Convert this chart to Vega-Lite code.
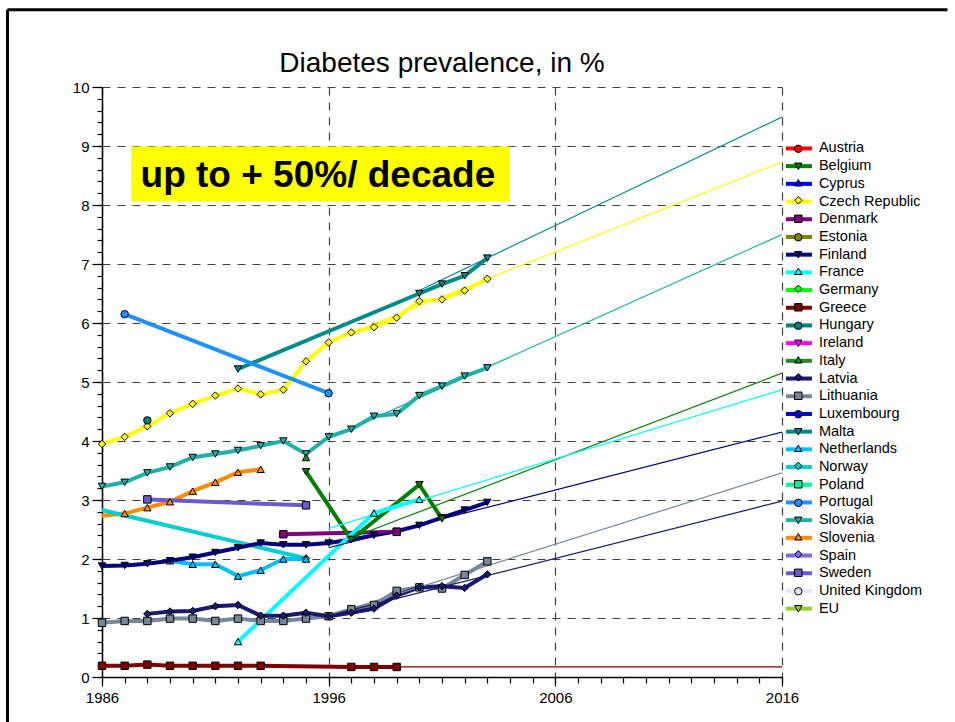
{
  "$schema": "https://vega.github.io/schema/vega-lite/v6.json",
  "width": 680,
  "height": 590,
  "autosize": {"type": "none"},
  "padding": {"left": 102, "top": 87, "right": 173, "bottom": 45},
  "background": "white",
  "config": {"view": {"stroke": null}, "font": "Liberation Sans"},
  "title": {"text": "Diabetes prevalence, in %", "fontSize": 28, "fontWeight": "normal", "font": "Liberation Sans", "color": "black", "anchor": "middle", "frame": "group", "baseline": "alphabetic", "offset": -92},
  "datasets": {
    "obs": [
      {"country": "Czech Republic", "year": 1986, "value": 3.95},
      {"country": "Czech Republic", "year": 1987, "value": 4.07},
      {"country": "Czech Republic", "year": 1988, "value": 4.25},
      {"country": "Czech Republic", "year": 1989, "value": 4.47},
      {"country": "Czech Republic", "year": 1990, "value": 4.63},
      {"country": "Czech Republic", "year": 1991, "value": 4.77},
      {"country": "Czech Republic", "year": 1992, "value": 4.89},
      {"country": "Czech Republic", "year": 1993, "value": 4.79},
      {"country": "Czech Republic", "year": 1994, "value": 4.87},
      {"country": "Czech Republic", "year": 1995, "value": 5.35},
      {"country": "Czech Republic", "year": 1996, "value": 5.67},
      {"country": "Czech Republic", "year": 1997, "value": 5.84},
      {"country": "Czech Republic", "year": 1998, "value": 5.93},
      {"country": "Czech Republic", "year": 1999, "value": 6.09},
      {"country": "Czech Republic", "year": 2000, "value": 6.37},
      {"country": "Czech Republic", "year": 2001, "value": 6.40},
      {"country": "Czech Republic", "year": 2002, "value": 6.55},
      {"country": "Czech Republic", "year": 2003, "value": 6.75},
      {"country": "Malta", "year": 1992, "value": 5.22},
      {"country": "Malta", "year": 2000, "value": 6.50},
      {"country": "Malta", "year": 2001, "value": 6.66},
      {"country": "Malta", "year": 2002, "value": 6.80},
      {"country": "Malta", "year": 2003, "value": 7.10},
      {"country": "Slovakia", "year": 1986, "value": 3.23},
      {"country": "Slovakia", "year": 1987, "value": 3.30},
      {"country": "Slovakia", "year": 1988, "value": 3.46},
      {"country": "Slovakia", "year": 1989, "value": 3.56},
      {"country": "Slovakia", "year": 1990, "value": 3.72},
      {"country": "Slovakia", "year": 1991, "value": 3.78},
      {"country": "Slovakia", "year": 1992, "value": 3.84},
      {"country": "Slovakia", "year": 1993, "value": 3.92},
      {"country": "Slovakia", "year": 1994, "value": 4.00},
      {"country": "Slovakia", "year": 1995, "value": 3.78},
      {"country": "Slovakia", "year": 1996, "value": 4.07},
      {"country": "Slovakia", "year": 1997, "value": 4.20},
      {"country": "Slovakia", "year": 1998, "value": 4.42},
      {"country": "Slovakia", "year": 1999, "value": 4.46},
      {"country": "Slovakia", "year": 2000, "value": 4.77},
      {"country": "Slovakia", "year": 2001, "value": 4.93},
      {"country": "Slovakia", "year": 2002, "value": 5.10},
      {"country": "Slovakia", "year": 2003, "value": 5.24},
      {"country": "Hungary", "year": 1988, "value": 4.35},
      {"country": "Portugal", "year": 1987, "value": 6.15},
      {"country": "Portugal", "year": 1996, "value": 4.81},
      {"country": "Slovenia", "year": 1985, "value": 2.70},
      {"country": "Slovenia", "year": 1987, "value": 2.77},
      {"country": "Slovenia", "year": 1988, "value": 2.87},
      {"country": "Slovenia", "year": 1989, "value": 2.97},
      {"country": "Slovenia", "year": 1990, "value": 3.15},
      {"country": "Slovenia", "year": 1991, "value": 3.30},
      {"country": "Slovenia", "year": 1992, "value": 3.47},
      {"country": "Slovenia", "year": 1993, "value": 3.52},
      {"country": "Sweden", "year": 1988, "value": 3.01},
      {"country": "Sweden", "year": 1995, "value": 2.91},
      {"country": "Norway", "year": 1985, "value": 2.92},
      {"country": "Norway", "year": 1995, "value": 2.01},
      {"country": "Netherlands", "year": 1989, "value": 1.97},
      {"country": "Netherlands", "year": 1990, "value": 1.91},
      {"country": "Netherlands", "year": 1991, "value": 1.91},
      {"country": "Netherlands", "year": 1992, "value": 1.71},
      {"country": "Netherlands", "year": 1993, "value": 1.81},
      {"country": "Netherlands", "year": 1994, "value": 2.00},
      {"country": "Netherlands", "year": 1995, "value": 2.00},
      {"country": "Finland", "year": 1986, "value": 1.88},
      {"country": "Finland", "year": 1987, "value": 1.89},
      {"country": "Finland", "year": 1988, "value": 1.92},
      {"country": "Finland", "year": 1989, "value": 1.97},
      {"country": "Finland", "year": 1990, "value": 2.03},
      {"country": "Finland", "year": 1991, "value": 2.11},
      {"country": "Finland", "year": 1992, "value": 2.19},
      {"country": "Finland", "year": 1993, "value": 2.27},
      {"country": "Finland", "year": 1994, "value": 2.24},
      {"country": "Finland", "year": 1995, "value": 2.24},
      {"country": "Finland", "year": 1996, "value": 2.27},
      {"country": "Finland", "year": 1997, "value": 2.33},
      {"country": "Finland", "year": 1998, "value": 2.40},
      {"country": "Finland", "year": 1999, "value": 2.47},
      {"country": "Finland", "year": 2000, "value": 2.57},
      {"country": "Finland", "year": 2001, "value": 2.70},
      {"country": "Finland", "year": 2002, "value": 2.83},
      {"country": "Finland", "year": 2003, "value": 2.96},
      {"country": "Denmark", "year": 1994, "value": 2.42},
      {"country": "Denmark", "year": 1999, "value": 2.46},
      {"country": "Belgium", "year": 1995, "value": 3.48},
      {"country": "Belgium", "year": 1997, "value": 2.33},
      {"country": "Belgium", "year": 2000, "value": 3.26},
      {"country": "Belgium", "year": 2001, "value": 2.68},
      {"country": "Italy", "year": 1995, "value": 3.72},
      {"country": "France", "year": 1992, "value": 0.60},
      {"country": "France", "year": 1998, "value": 2.78},
      {"country": "France", "year": 2000, "value": 3.01},
      {"country": "Lithuania", "year": 1986, "value": 0.92},
      {"country": "Lithuania", "year": 1987, "value": 0.95},
      {"country": "Lithuania", "year": 1988, "value": 0.95},
      {"country": "Lithuania", "year": 1989, "value": 0.99},
      {"country": "Lithuania", "year": 1990, "value": 0.99},
      {"country": "Lithuania", "year": 1991, "value": 0.95},
      {"country": "Lithuania", "year": 1992, "value": 0.99},
      {"country": "Lithuania", "year": 1993, "value": 0.95},
      {"country": "Lithuania", "year": 1994, "value": 0.95},
      {"country": "Lithuania", "year": 1995, "value": 0.99},
      {"country": "Lithuania", "year": 1996, "value": 1.03},
      {"country": "Lithuania", "year": 1997, "value": 1.15},
      {"country": "Lithuania", "year": 1998, "value": 1.22},
      {"country": "Lithuania", "year": 1999, "value": 1.46},
      {"country": "Lithuania", "year": 2000, "value": 1.52},
      {"country": "Lithuania", "year": 2001, "value": 1.50},
      {"country": "Lithuania", "year": 2002, "value": 1.73},
      {"country": "Lithuania", "year": 2003, "value": 1.96},
      {"country": "Latvia", "year": 1988, "value": 1.07},
      {"country": "Latvia", "year": 1989, "value": 1.11},
      {"country": "Latvia", "year": 1990, "value": 1.12},
      {"country": "Latvia", "year": 1991, "value": 1.20},
      {"country": "Latvia", "year": 1992, "value": 1.22},
      {"country": "Latvia", "year": 1993, "value": 1.04},
      {"country": "Latvia", "year": 1994, "value": 1.04},
      {"country": "Latvia", "year": 1995, "value": 1.09},
      {"country": "Latvia", "year": 1996, "value": 1.03},
      {"country": "Latvia", "year": 1997, "value": 1.09},
      {"country": "Latvia", "year": 1998, "value": 1.16},
      {"country": "Latvia", "year": 1999, "value": 1.38},
      {"country": "Latvia", "year": 2000, "value": 1.52},
      {"country": "Latvia", "year": 2001, "value": 1.54},
      {"country": "Latvia", "year": 2002, "value": 1.51},
      {"country": "Latvia", "year": 2003, "value": 1.74},
      {"country": "Greece", "year": 1986, "value": 0.19},
      {"country": "Greece", "year": 1987, "value": 0.19},
      {"country": "Greece", "year": 1988, "value": 0.21},
      {"country": "Greece", "year": 1989, "value": 0.19},
      {"country": "Greece", "year": 1990, "value": 0.19},
      {"country": "Greece", "year": 1991, "value": 0.19},
      {"country": "Greece", "year": 1992, "value": 0.19},
      {"country": "Greece", "year": 1993, "value": 0.19},
      {"country": "Greece", "year": 1997, "value": 0.17},
      {"country": "Greece", "year": 1998, "value": 0.17},
      {"country": "Greece", "year": 1999, "value": 0.17}
    ],
    "trend": [
      {"country": "Czech Republic", "year": 1996, "value": 5.68},
      {"country": "Czech Republic", "year": 2016, "value": 8.73},
      {"country": "Malta", "year": 2000, "value": 6.55},
      {"country": "Malta", "year": 2016, "value": 9.49},
      {"country": "Slovakia", "year": 1996, "value": 4.04},
      {"country": "Slovakia", "year": 2016, "value": 7.50},
      {"country": "Belgium", "year": 1997, "value": 2.36},
      {"country": "Belgium", "year": 2016, "value": 5.15},
      {"country": "France", "year": 1996, "value": 2.52},
      {"country": "France", "year": 2016, "value": 4.87},
      {"country": "Finland", "year": 1996, "value": 2.19},
      {"country": "Finland", "year": 2016, "value": 4.15},
      {"country": "Lithuania", "year": 1996, "value": 1.04},
      {"country": "Lithuania", "year": 2016, "value": 3.46},
      {"country": "Latvia", "year": 1996, "value": 1.04},
      {"country": "Latvia", "year": 2016, "value": 2.98},
      {"country": "Greece", "year": 1999, "value": 0.17},
      {"country": "Greece", "year": 2016, "value": 0.17}
    ]
  },
  "layer": [
    {
      "data": {"values": [{}]},
      "mark": {"type": "rule", "color": "black", "strokeWidth": 3, "clip": false},
      "encoding": {
        "x": {"datum": 1981.83, "type": "quantitative", "scale": {"domain": [1986, 2016], "nice": false, "zero": false}, "axis": null},
        "y": {"datum": 11.31, "type": "quantitative", "scale": {"domain": [0, 10], "nice": false, "zero": false}, "axis": null},
        "y2": {"datum": -1.5}
      }
    },
    {
      "data": {"values": [{}]},
      "mark": {"type": "rule", "color": "black", "strokeWidth": 3, "clip": false},
      "encoding": {
        "x": {"datum": 1981.83, "type": "quantitative", "scale": {"domain": [1986, 2016], "nice": false, "zero": false}, "axis": null},
        "x2": {"datum": 2023.3},
        "y": {"datum": 11.31, "type": "quantitative", "scale": {"domain": [0, 10], "nice": false, "zero": false}, "axis": null}
      }
    },
    {
      "data": {"values": [{}]},
      "mark": {"type": "rect", "color": "#FFFF00", "clip": false},
      "encoding": {
        "x": {"datum": 1987.28, "type": "quantitative", "scale": {"domain": [1986, 2016], "nice": false, "zero": false}, "axis": null},
        "x2": {"datum": 2004.0},
        "y": {"datum": 8.99, "type": "quantitative", "scale": {"domain": [0, 10], "nice": false, "zero": false}, "axis": null},
        "y2": {"datum": 8.06}
      }
    },
    {
      "data": {"values": [{}]},
      "mark": {"type": "text", "text": "up to + 50%/ decade", "align": "left", "baseline": "middle", "fontSize": 37, "fontWeight": "bold", "font": "Liberation Sans", "color": "black", "clip": false},
      "encoding": {
        "x": {"datum": 1987.7, "type": "quantitative", "scale": {"domain": [1986, 2016], "nice": false, "zero": false}, "axis": null},
        "y": {"datum": 8.5, "type": "quantitative", "scale": {"domain": [0, 10], "nice": false, "zero": false}, "axis": null}
      }
    },
    {
      "data": {"name": "obs"},
      "mark": {"type": "line", "strokeWidth": 4, "clip": true},
      "encoding": {
        "x": {"field": "year", "type": "quantitative", "scale": {"domain": [1986, 2016], "nice": false, "zero": false},
          "axis": {"orient": "bottom", "values": [1986, 1996, 2006, 2016], "format": "d", "title": null, "grid": true, "gridDash": [8, 7], "gridColor": "#404040", "gridWidth": 1.2, "gridOpacity": 1, "tickSize": 9, "tickColor": "black", "tickWidth": 1.2, "domainColor": "black", "domainWidth": 1.5, "labelFontSize": 15, "labelColor": "black", "labelFont": "Liberation Sans", "labelPadding": 4, "labelFlush": false, "labelOverlap": false, "labelBound": false}},
        "y": {"field": "value", "type": "quantitative", "scale": {"domain": [0, 10], "nice": false, "zero": false},
          "axis": {"orient": "left", "values": [0, 1, 2, 3, 4, 5, 6, 7, 8, 9, 10], "title": null, "grid": true, "gridDash": [8, 7], "gridColor": "#404040", "gridWidth": 1.2, "gridOpacity": 1, "tickSize": 10, "tickColor": "black", "tickWidth": 1.2, "domainColor": "black", "domainWidth": 1.5, "labelFontSize": 15, "labelColor": "black", "labelFont": "Liberation Sans", "labelPadding": 3, "labelFlush": false, "labelOverlap": false, "labelBound": false}},
        "color": {"field": "country", "type": "nominal",
          "scale": {
            "domain": ["Austria", "Belgium", "Cyprus", "Czech Republic", "Denmark", "Estonia", "Finland", "France", "Germany", "Greece", "Hungary", "Ireland", "Italy", "Latvia", "Lithuania", "Luxembourg", "Malta", "Netherlands", "Norway", "Poland", "Portugal", "Slovakia", "Slovenia", "Spain", "Sweden", "United Kingdom", "EU"],
            "range": ["#FF0000", "#008000", "#0000FF", "#FFFF00", "#800080", "#808000", "#000080", "#00FFFF", "#00FF00", "#800000", "#008080", "#FF00FF", "#228B22", "#191970", "#778899", "#0000CD", "#008B8B", "#00BFFF", "#00CED1", "#00FA9A", "#1E90FF", "#20B2AA", "#FF8C00", "#7B68EE", "#6A5ACD", "#E6E6FA", "#9ACD32"]
          },
          "legend": {"orient": "none", "legendX": 689.7, "legendY": 54.2, "title": null, "symbolType": "M-3,0H3", "symbolSize": 75, "symbolStrokeWidth": 4, "labelFontSize": 14.5, "labelFont": "Liberation Sans", "labelColor": "black", "labelOffset": 12.7, "rowPadding": 0.7, "padding": 0, "labelLimit": 250}
        }
      }
    },
    {
      "data": {"name": "trend"},
      "mark": {"type": "line", "strokeWidth": 1.2, "clip": true},
      "encoding": {
        "x": {"field": "year", "type": "quantitative", "scale": {"domain": [1986, 2016], "nice": false, "zero": false},
          "axis": {"orient": "bottom", "values": [1986, 1987, 1988, 1989, 1990, 1991, 1992, 1993, 1994, 1995, 1996, 1997, 1998, 1999, 2000, 2001, 2002, 2003, 2004, 2005, 2006, 2007, 2008, 2009, 2010, 2011, 2012, 2013, 2014, 2015, 2016], "title": null, "grid": false, "domain": false, "labels": false, "tickSize": 6, "tickColor": "black", "tickWidth": 1.2}},
        "y": {"field": "value", "type": "quantitative", "scale": {"domain": [0, 10], "nice": false, "zero": false},
          "axis": {"orient": "left", "values": [0, 0.2, 0.4, 0.6, 0.8, 1, 1.2, 1.4, 1.6, 1.8, 2, 2.2, 2.4, 2.6, 2.8, 3, 3.2, 3.4, 3.6, 3.8, 4, 4.2, 4.4, 4.6, 4.8, 5, 5.2, 5.4, 5.6, 5.8, 6, 6.2, 6.4, 6.6, 6.8, 7, 7.2, 7.4, 7.6, 7.8, 8, 8.2, 8.4, 8.6, 8.8, 9, 9.2, 9.4, 9.6, 9.8, 10], "title": null, "grid": false, "domain": false, "labels": false, "tickSize": 5, "tickColor": "black", "tickWidth": 1.2}},
        "stroke": {"field": "country", "type": "nominal",
          "scale": {
            "domain": ["Austria", "Belgium", "Cyprus", "Czech Republic", "Denmark", "Estonia", "Finland", "France", "Germany", "Greece", "Hungary", "Ireland", "Italy", "Latvia", "Lithuania", "Luxembourg", "Malta", "Netherlands", "Norway", "Poland", "Portugal", "Slovakia", "Slovenia", "Spain", "Sweden", "United Kingdom", "EU"],
            "range": ["#FF0000", "#008000", "#0000FF", "#FFFF00", "#800080", "#808000", "#000080", "#00FFFF", "#00FF00", "#800000", "#008080", "#FF00FF", "#228B22", "#191970", "#778899", "#0000CD", "#008B8B", "#00BFFF", "#00CED1", "#00FA9A", "#1E90FF", "#20B2AA", "#FF8C00", "#7B68EE", "#6A5ACD", "#E6E6FA", "#9ACD32"]
          },
          "legend": null
        }
      }
    },
    {
      "data": {"name": "obs"},
      "transform": [{"filter": "datum.year >= 1986"}],
      "mark": {"type": "point", "filled": true, "stroke": "black", "strokeWidth": 1, "size": 55, "opacity": 1},
      "encoding": {
        "x": {"field": "year", "type": "quantitative", "scale": {"domain": [1986, 2016], "nice": false, "zero": false}, "axis": null},
        "y": {"field": "value", "type": "quantitative", "scale": {"domain": [0, 10], "nice": false, "zero": false}, "axis": null},
        "color": {"field": "country", "type": "nominal",
          "legend": {"orient": "none", "legendX": 691.8, "legendY": 57.3, "title": null, "symbolSize": 55, "symbolStrokeColor": "black", "symbolStrokeWidth": 1, "labelFontSize": 1, "labelExpr": "''", "labelOpacity": 0, "labelOffset": 0, "rowPadding": 5.5, "padding": 0}
        },
        "shape": {"field": "country", "type": "nominal",
          "scale": {
            "domain": ["Austria", "Belgium", "Cyprus", "Czech Republic", "Denmark", "Estonia", "Finland", "France", "Germany", "Greece", "Hungary", "Ireland", "Italy", "Latvia", "Lithuania", "Luxembourg", "Malta", "Netherlands", "Norway", "Poland", "Portugal", "Slovakia", "Slovenia", "Spain", "Sweden", "United Kingdom", "EU"],
            "range": ["circle", "triangle-down", "triangle-up", "diamond", "square", "circle", "triangle-down", "triangle-up", "diamond", "square", "circle", "triangle-down", "triangle-up", "diamond", "square", "circle", "triangle-down", "triangle-up", "diamond", "square", "circle", "triangle-down", "triangle-up", "diamond", "square", "circle", "triangle-down"]
          },
          "legend": {"orient": "none", "legendX": 691.8, "legendY": 57.3, "title": null, "symbolSize": 55, "symbolStrokeColor": "black", "symbolStrokeWidth": 1, "labelFontSize": 1, "labelExpr": "''", "labelOpacity": 0, "labelOffset": 0, "rowPadding": 5.5, "padding": 0}
        }
      }
    }
  ],
  "resolve": {
    "axis": {"x": "independent", "y": "independent"},
    "legend": {"color": "independent", "shape": "independent"}
  }
}
